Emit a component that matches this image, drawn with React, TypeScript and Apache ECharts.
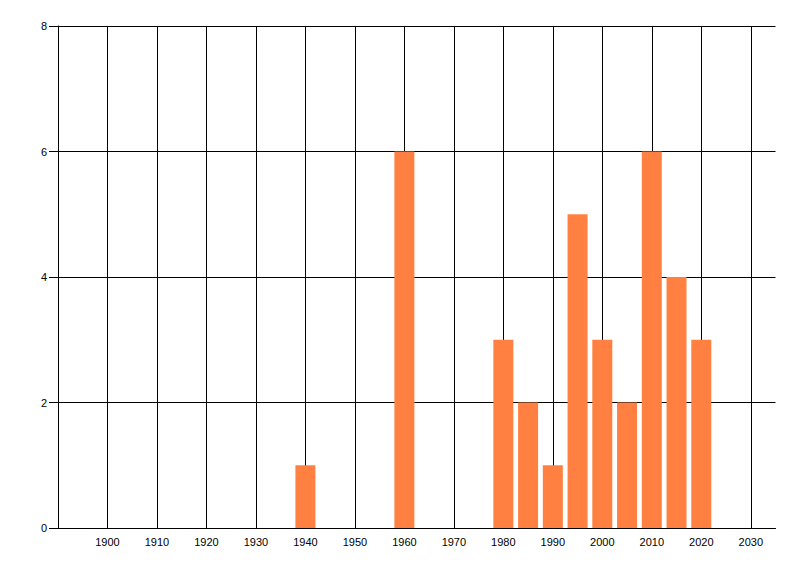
import React, { useEffect, useRef } from 'react';
import * as echarts from 'echarts';

const years = [1940, 1960, 1980, 1985, 1990, 1995, 2000, 2005, 2010, 2015, 2020];
const counts = [1, 6, 3, 2, 1, 5, 3, 2, 6, 4, 3];
const xTicks = [1900, 1910, 1920, 1930, 1940, 1950, 1960, 1970, 1980, 1990, 2000, 2010, 2020, 2030];

const App = () => {
    const chartRef = useRef<HTMLDivElement>(null);

    useEffect(() => {
        if (!chartRef.current) return;
        const myChart = echarts.init(chartRef.current, undefined, { renderer: 'svg' });

        const labelStyle = {
            color: '#000',
            fontFamily: 'Liberation Sans',
            fontSize: 11
        };

        myChart.setOption({
            animation: false,
            backgroundColor: '#fff',
            grid: {
                left: 58,
                right: 24.5,
                top: 26,
                bottom: 48
            },
            xAxis: {
                type: 'value',
                min: 1890,
                max: 2035,
                interval: 10,
                axisLine: { show: true, onZero: false, lineStyle: { color: '#000', width: 1 } },
                axisTick: { show: false, customValues: xTicks },
                axisLabel: { ...labelStyle, margin: 8, customValues: xTicks, formatter: (v: number) => String(v) },
                splitLine: { show: false }
            },
            yAxis: {
                type: 'value',
                min: 0,
                max: 8,
                interval: 2,
                axisLine: { show: true, lineStyle: { color: '#000', width: 1 } },
                axisTick: { show: true, length: 9, lineStyle: { color: '#000', width: 1 } },
                axisLabel: { ...labelStyle, margin: 11 },
                splitLine: { show: true, lineStyle: { color: '#000', width: 1 } }
            },
            series: [
                {
                    // vertical grid lines at the labelled years
                    type: 'line',
                    data: [],
                    silent: true,
                    z: 1,
                    markLine: {
                        z: 1,
                        silent: true,
                        symbol: 'none',
                        label: { show: false },
                        lineStyle: { color: '#000', type: 'solid', width: 1 },
                        data: xTicks.map((t) => ({ xAxis: t }))
                    }
                },
                {
                    type: 'bar',
                    data: years.map((y, i) => [y, counts[i]]),
                    barWidth: 20,
                    itemStyle: { color: '#FF8040' },
                    z: 5
                }
            ]
        });

        return () => {
            myChart.dispose();
        };
    }, []);

    return (
        <div
            ref={chartRef}
            style={{ position: 'fixed', left: 0, top: 0, width: '800px', height: '576px' }}
        />
    );
};

export default App;
